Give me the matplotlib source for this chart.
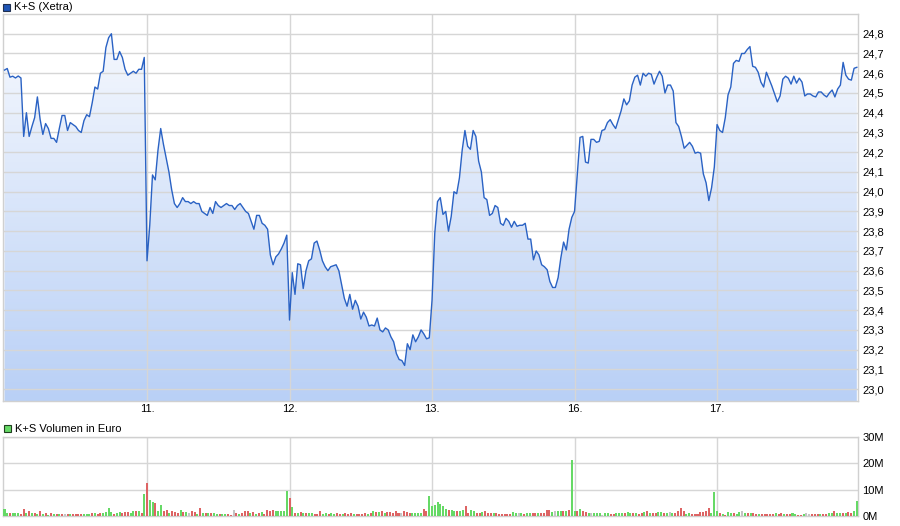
import numpy as np
import matplotlib
matplotlib.use("Agg")
import matplotlib.pyplot as plt
from matplotlib.patches import Rectangle
from matplotlib.colors import LinearSegmentedColormap

plt.rcParams['font.family'] = ['Liberation Sans', 'DejaVu Sans']

# ---------------- data ----------------
day_labels = ["10.", "11.", "12.", "13.", "16.", "17."]
title_price = "K+S (Xetra)"
title_volume = "K+S Volumen in Euro"

price_d1 = [24.616, 24.624, 24.58, 24.585, 24.576, 24.586, 24.576, 24.28, 24.40, 24.28,
            24.33, 24.375, 24.48, 24.366, 24.29, 24.345, 24.32, 24.27, 24.27, 24.25,
            24.32, 24.386, 24.386, 24.31, 24.35, 24.34, 24.33, 24.31, 24.30, 24.36,
            24.39, 24.38, 24.45, 24.53, 24.52, 24.60, 24.61, 24.73, 24.78, 24.80,
            24.67, 24.67, 24.71, 24.68, 24.62, 24.59, 24.60, 24.61, 24.60, 24.62,
            24.62, 24.68]
price_d2 = [23.65, 23.83, 24.085, 24.06, 24.21, 24.32, 24.24, 24.17, 24.10, 24.01,
            23.94, 23.92, 23.94, 23.97, 23.95, 23.95, 23.94, 23.95, 23.94, 23.94,
            23.90, 23.89, 23.88, 23.92, 23.89, 23.95, 23.93, 23.92, 23.93, 23.94,
            23.93, 23.93, 23.91, 23.93, 23.94, 23.92, 23.90, 23.89, 23.85, 23.81,
            23.88, 23.88, 23.84, 23.83, 23.81, 23.68, 23.63, 23.67, 23.685, 23.71,
            23.74, 23.78]
price_d3 = [23.35, 23.59, 23.48, 23.635, 23.63, 23.51, 23.60, 23.65, 23.66, 23.74,
            23.75, 23.705, 23.65, 23.62, 23.60, 23.62, 23.625, 23.63, 23.60, 23.53,
            23.46, 23.42, 23.48, 23.405, 23.45, 23.42, 23.355, 23.39, 23.365, 23.32,
            23.325, 23.32, 23.36, 23.30, 23.29, 23.31, 23.30, 23.265, 23.24, 23.18,
            23.15, 23.145, 23.12, 23.23, 23.20, 23.275, 23.24, 23.265, 23.30, 23.28,
            23.255, 23.26]
price_d4 = [23.45, 23.79, 23.95, 23.97, 23.885, 23.90, 23.80, 23.875, 24.00, 23.99,
            24.07, 24.21, 24.31, 24.23, 24.215, 24.31, 24.28, 24.155, 24.10, 23.97,
            23.96, 23.88, 23.89, 23.93, 23.92, 23.84, 23.83, 23.865, 23.85, 23.82,
            23.85, 23.825, 23.83, 23.83, 23.84, 23.76, 23.76, 23.655, 23.70, 23.68,
            23.63, 23.62, 23.605, 23.545, 23.515, 23.515, 23.565, 23.665, 23.745, 23.705,
            23.81, 23.87]
price_d5 = [23.90, 24.09, 24.275, 24.28, 24.15, 24.145, 24.265, 24.265, 24.25, 24.255,
            24.31, 24.315, 24.35, 24.365, 24.34, 24.32, 24.365, 24.41, 24.47, 24.44,
            24.46, 24.54, 24.58, 24.59, 24.54, 24.60, 24.585, 24.60, 24.595, 24.545,
            24.58, 24.61, 24.585, 24.50, 24.54, 24.54, 24.51, 24.35, 24.33, 24.28,
            24.22, 24.235, 24.25, 24.23, 24.195, 24.20, 24.195, 24.09, 24.045, 23.955,
            24.02, 24.125]
price_d6 = [24.34, 24.31, 24.30, 24.375, 24.49, 24.53, 24.65, 24.665, 24.66, 24.70,
            24.70, 24.72, 24.735, 24.635, 24.63, 24.605, 24.555, 24.53, 24.605, 24.57,
            24.535, 24.495, 24.455, 24.485, 24.57, 24.585, 24.575, 24.545, 24.585, 24.55,
            24.575, 24.555, 24.485, 24.495, 24.495, 24.485, 24.48, 24.505, 24.505, 24.49,
            24.48, 24.50, 24.515, 24.48, 24.52, 24.54, 24.655, 24.59, 24.57, 24.565,
            24.625, 24.63]

# volume in million euro, and direction of the interval (g = up, r = down, n = unchanged)
vol_d1 = [2.5, 1.0, 1.3, 1.3, 1.0, 1.0, 0.6, 2.5, 1.0, 1.8,
          1.3, 1.0, 0.8, 1.8, 0.8, 1.0, 0.5, 1.0, 0.6, 0.8,
          0.6, 0.8, 0.6, 0.8, 0.6, 0.8, 0.8, 0.8, 0.8, 0.6,
          0.6, 0.8, 1.0, 1.3, 0.8, 1.3, 1.3, 1.5, 3.0, 1.5,
          0.8, 1.0, 1.5, 1.3, 1.5, 1.5, 1.3, 1.8, 1.8, 1.9,
          1.3, 8.4]
dir_d1 = "ggrgggrrgr" "grgrgrgrgr" "grnrgrrrrg" "ggrgrrgggg" "rggrrrggrg" "rg"
vol_d2 = [12.4, 6.1, 5.3, 4.8, 1.9, 4.2, 1.8, 2.3, 1.0, 2.0,
          1.5, 1.3, 2.3, 1.5, 1.5, 1.0, 1.8, 1.5, 0.8, 3.0,
          1.3, 1.3, 1.0, 1.0, 1.3, 0.8, 0.8, 0.8, 0.8, 0.8,
          0.5, 2.3, 1.3, 0.8, 1.3, 1.8, 1.8, 1.3, 1.5, 0.8,
          1.3, 1.5, 0.8, 2.3, 1.8, 2.3, 1.8, 1.8, 1.8, 1.8,
          9.5]
dir_d2 = "rggrggrrgr" "rrgrgnrrgr" "grgrggrggr" "rnrgrrrgrg" "rgrrrrgggg" "g"
vol_d3 = [6.7, 3.3, 1.3, 1.0, 1.5, 1.3, 1.0, 1.0, 1.0, 0.8,
          0.8, 1.8, 0.8, 1.0, 0.8, 1.0, 0.8, 1.0, 0.8, 0.8,
          1.0, 0.8, 1.0, 0.8, 0.8, 0.8, 0.8, 1.0, 0.8, 1.3,
          1.8, 1.5, 1.5, 1.8, 1.3, 1.5, 1.5, 1.3, 2.0, 1.3,
          1.0, 1.8, 1.5, 1.0, 1.3, 1.3, 1.3, 1.3, 2.5, 1.8,
          7.6]
dir_d3 = "rgrgrgrggr" "rrggrggrrg" "rrrgrrrrgr" "grgrgrrrrr" "nrrrggggrr" "g"
vol_d4 = [3.8, 4.3, 5.3, 4.6, 3.8, 2.5, 2.3, 2.3, 1.8, 1.8,
          2.0, 2.3, 3.8, 1.0, 2.3, 1.8, 1.3, 1.3, 1.5, 1.8,
          1.3, 1.3, 1.0, 1.0, 0.8, 0.8, 0.8, 0.8, 0.8, 1.5,
          1.0, 1.0, 1.0, 0.8, 1.0, 1.0, 1.3, 1.0, 1.0, 1.3,
          1.0, 2.3, 2.3, 1.5, 1.8, 2.0, 2.0, 2.0, 2.0, 2.3,
          21.1]
dir_d4 = "ggggggrggr" "ggrrggrrgr" "rrgrrrrrrg" "gngrggrrgr" "rrrgnggrgr" "g"
vol_d5 = [1.8, 1.8, 2.5, 2.0, 1.5, 1.0, 1.3, 1.0, 1.0, 1.0,
          0.5, 1.3, 1.0, 0.8, 0.8, 1.0, 1.3, 1.3, 1.0, 1.5,
          1.0, 1.0, 1.0, 0.8, 1.3, 1.5, 1.8, 1.3, 1.0, 1.0,
          1.5, 1.5, 1.3, 1.3, 1.5, 1.3, 1.3, 1.8, 3.0, 1.8,
          0.8, 1.0, 0.8, 0.8, 0.8, 1.5, 1.5, 2.0, 3.0, 1.3,
          9.0]
dir_d5 = "grgrrgnggg" "nggrrgggrg" "grgrrgrgrr" "ggrgngrrrr" "ggrrrrrrrg" "g"
vol_d6 = [1.8, 1.3, 0.8, 0.5, 1.5, 1.3, 1.3, 0.8, 1.5, 1.8,
          1.3, 1.0, 1.3, 1.0, 0.8, 0.8, 0.8, 0.8, 0.8, 0.8,
          0.8, 1.0, 0.8, 1.3, 0.8, 0.8, 0.8, 1.3, 0.8, 0.5,
          0.5, 0.8, 1.0, 0.8, 0.8, 0.8, 0.8, 0.8, 0.8, 0.8,
          1.0, 1.0, 2.0, 1.3, 1.3, 1.3, 1.3, 1.5, 1.3, 2.0,
          5.6]
dir_d6 = "grgrggrggn" "grgrrgrrrr" "rgrrgrrggr" "rgnnrrrgrr" "ggrggrgrrg" "g"

price_days = [price_d1, price_d2, price_d3, price_d4, price_d5, price_d6]
vol_days = [vol_d1, vol_d2, vol_d3, vol_d4, vol_d5, vol_d6]
dir_days = [dir_d1, dir_d2, dir_d3, dir_d4, dir_d5, dir_d6]
price_ticks = [round(23.0 + 0.1 * k, 1) for k in range(19)]
vol_ticks = [0, 10, 20, 30]

# ---------------- figure ----------------
W, H = 900, 526
fig = plt.figure(figsize=(W / 100, H / 100), dpi=100)


def rect(l, t, r, b):
    return [l / W, 1 - b / H, (r - l) / W, (b - t) / H]


ax = fig.add_axes(rect(3, 14, 858, 401))
axv = fig.add_axes(rect(3, 437, 858, 516))

xmin, xmax = -0.0105, 5.989
ymin, ymax = 22.94, 24.90

x = np.concatenate([d + np.arange(len(p)) / len(p) for d, p in enumerate(price_days)])
y = np.concatenate([np.asarray(p, float) for p in price_days])

poly = ax.fill_between(x, y, ymin, color='none', lw=0)
cmap = LinearSegmentedColormap.from_list('fillgrad', ['#B9D0F6', '#F8FAFE'])
grad = np.linspace(0, 1, 256).reshape(-1, 1)
im = ax.imshow(grad, cmap=cmap, extent=[xmin, xmax, ymin, ymax], origin='lower',
               aspect='auto', zorder=1, interpolation='bilinear')
im.set_clip_path(poly.get_paths()[0], transform=ax.transData)
ax.plot(x, y, color='#2A62C4', lw=1.0, zorder=3)

ax.set_xlim(xmin, xmax)
ax.set_ylim(ymin, ymax)
ax.set_xticks(range(1, 6))
ax.set_xticklabels(day_labels[1:])
ax.set_yticks(price_ticks)
ax.set_yticklabels([f"{v:.1f}".replace('.', ',') for v in price_ticks])
ax.yaxis.tick_right()
ax.tick_params(axis='both', length=0, labelsize=8, colors='#000000')
ax.tick_params(axis='x', pad=2)
ax.tick_params(axis='y', pad=3)
ax.grid(True, color='#D6D6D6', lw=1.0)
for s in ax.spines.values():
    s.set_color('#D0D0D0')
    s.set_linewidth(1.0)

# volume
colmap = {'g': '#66D966', 'r': '#DD6464', 'n': '#C4C4C4'}
for d, (v, dr) in enumerate(zip(vol_days, dir_days)):
    n = min(len(v), len(dr))
    xs = d + np.arange(n) / n
    axv.bar(xs, v[:n], width=0.72 / 51, color=[colmap[c] for c in dr[:n]],
            linewidth=0, zorder=3)
axv.set_xlim(xmin, xmax)
axv.set_ylim(0, 30)
axv.set_xticks(range(1, 6))
axv.set_xticklabels([])
axv.set_yticks(vol_ticks)
axv.set_yticklabels([f"{v}M" for v in vol_ticks])
axv.yaxis.tick_right()
axv.tick_params(axis='both', length=0, labelsize=8, colors='#000000')
axv.tick_params(axis='y', pad=3)
axv.grid(True, color='#D6D6D6', lw=1.0)
for s in axv.spines.values():
    s.set_color('#D0D0D0')
    s.set_linewidth(1.0)

# legends
fig.add_artist(Rectangle((3 / W, 1 - 11 / H), 7 / W, 7 / H, transform=fig.transFigure,
                         facecolor='#1F55B5', edgecolor='#203050', lw=0.8))
fig.text(14 / W, 1 - 7.5 / H, title_price, va='center', ha='left', fontsize=8)
fig.add_artist(Rectangle((4 / W, 1 - 432 / H), 7 / W, 7 / H, transform=fig.transFigure,
                         facecolor='#66D966', edgecolor='#204020', lw=0.8))
fig.text(15 / W, 1 - 428.5 / H, title_volume, va='center', ha='left', fontsize=8)

fig.savefig('out.png', dpi=100)
